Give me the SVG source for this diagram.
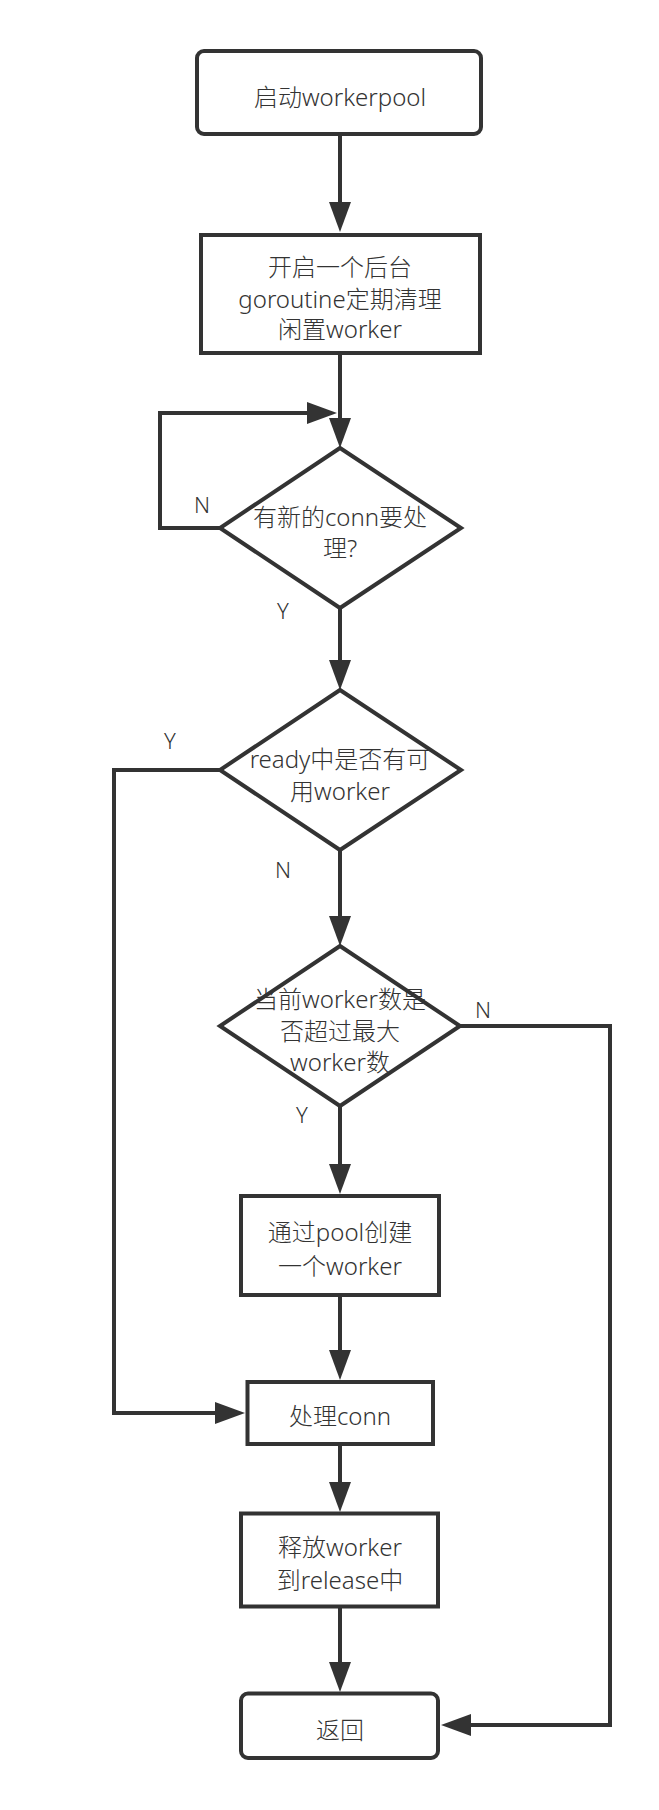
<svg xmlns="http://www.w3.org/2000/svg" width="659" height="1810" viewBox="0 0 659 1810">
<style>
  .shape { fill: #ffffff; stroke: #333333; stroke-width: 4; }
  .conn { fill: none; stroke: #333333; stroke-width: 4; }
  .txt { font-family: "Noto Sans", "Noto Sans CJK SC", sans-serif; font-size: 24px; font-weight: 300; fill: #333333; text-anchor: middle; }
  .lbl { font-family: "Noto Sans", "Noto Sans CJK SC", sans-serif; font-size: 22px; font-weight: 300; fill: #333333; text-anchor: middle; }
</style>
<defs>
  <marker id="arrow" markerUnits="userSpaceOnUse" markerWidth="30" markerHeight="22" refX="10" refY="11" orient="auto" viewBox="0 0 30 22">
    <path d="M0,0 L30,11 L0,22 Z" fill="#333333"/>
  </marker>
</defs>
<rect width="659" height="1810" fill="#ffffff"/>

<g id="connectors">
  <path class="conn" d="M340,136 L340,212" marker-end="url(#arrow)"/>
  <path class="conn" d="M340,355 L340,428" marker-end="url(#arrow)"/>
  <path class="conn" d="M220,528 L160,528 L160,413 L317,413" marker-end="url(#arrow)"/>
  <path class="conn" d="M340,608 L340,670" marker-end="url(#arrow)"/>
  <path class="conn" d="M340,850 L340,926" marker-end="url(#arrow)"/>
  <path class="conn" d="M220,770 L114,770 L114,1413 L225,1413" marker-end="url(#arrow)"/>
  <path class="conn" d="M460,1026 L610,1026 L610,1725 L461,1725" marker-end="url(#arrow)"/>
  <path class="conn" d="M340,1106 L340,1174" marker-end="url(#arrow)"/>
  <path class="conn" d="M340,1296 L340,1360" marker-end="url(#arrow)"/>
  <path class="conn" d="M340,1446 L340,1492" marker-end="url(#arrow)"/>
  <path class="conn" d="M340,1608 L340,1672" marker-end="url(#arrow)"/>
</g>

<g id="start">
  <rect class="shape" x="197" y="51" width="284" height="83" rx="7"/>
  <text class="txt" x="340" y="106">启动workerpool</text>
</g>

<g id="cleanup">
  <rect class="shape" x="201" y="235" width="279" height="118"/>
  <text class="txt" x="340" y="276">开启一个后台</text>
  <text class="txt" x="340" y="308">goroutine定期清理</text>
  <text class="txt" x="340" y="338">闲置worker</text>
</g>

<g id="has-conn">
  <polygon class="shape" points="340,448 461,528 340,608 220,528"/>
  <text class="txt" x="340" y="526">有新的conn要处</text>
  <text class="txt" x="340" y="557">理?</text>
  <text class="lbl" x="202" y="513">N</text>
  <text class="lbl" x="283" y="619">Y</text>
</g>

<g id="ready">
  <polygon class="shape" points="340,690 461,770 340,850 220,770"/>
  <text class="txt" x="340" y="768">ready中是否有可</text>
  <text class="txt" x="340" y="800">用worker</text>
  <text class="lbl" x="170" y="749">Y</text>
  <text class="lbl" x="283" y="878">N</text>
</g>

<g id="max-check">
  <polygon class="shape" points="340,946 460,1026 340,1106 220,1026"/>
  <text class="txt" x="340" y="1008">当前worker数是</text>
  <text class="txt" x="340" y="1040">否超过最大</text>
  <text class="txt" x="340" y="1071">worker数</text>
  <text class="lbl" x="483" y="1018">N</text>
  <text class="lbl" x="302" y="1123">Y</text>
</g>

<g id="create">
  <rect class="shape" x="241" y="1196" width="198" height="99"/>
  <text class="txt" x="340" y="1241">通过pool创建</text>
  <text class="txt" x="340" y="1275">一个worker</text>
</g>

<g id="handle">
  <rect class="shape" x="247.5" y="1382" width="185.5" height="62"/>
  <text class="txt" x="340" y="1425">处理conn</text>
</g>

<g id="release">
  <rect class="shape" x="241" y="1513.5" width="197" height="93"/>
  <text class="txt" x="340" y="1556">释放worker</text>
  <text class="txt" x="340" y="1589">到release中</text>
</g>

<g id="return">
  <rect class="shape" x="241" y="1693.5" width="197" height="64.5" rx="7"/>
  <text class="txt" x="340" y="1739">返回</text>
</g>
</svg>
